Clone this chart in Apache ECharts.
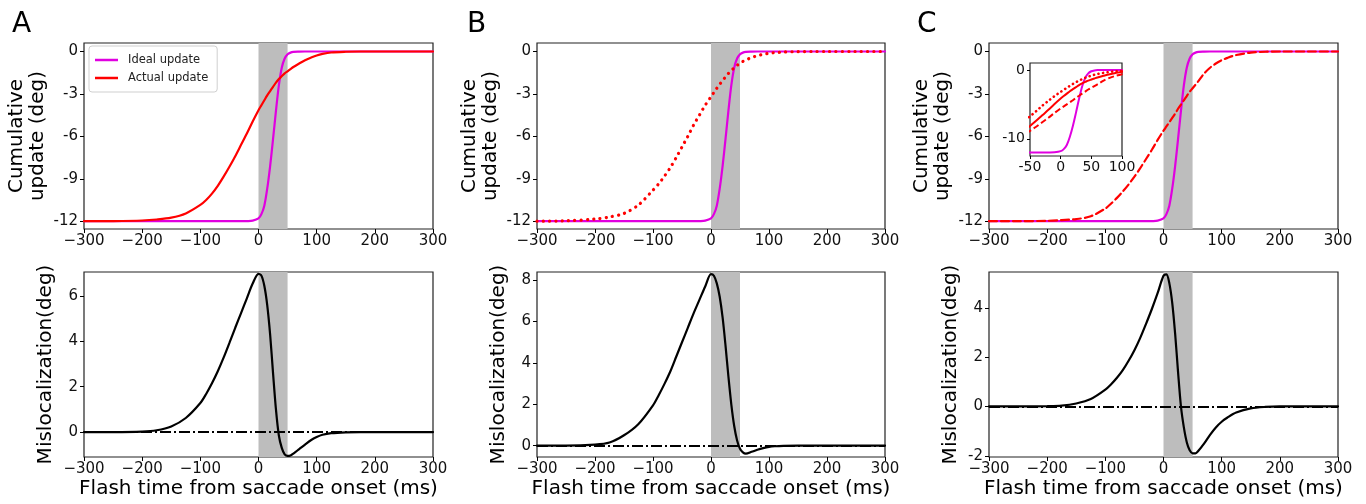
<!DOCTYPE html>
<html>
<head>
<meta charset="utf-8">
<script src="https://cdn.jsdelivr.net/npm/echarts@6/dist/echarts.min.js"></script>
<style>
  html, body { margin: 0; padding: 0; background: #fff; }
  #main { width: 1366px; height: 504px; }
</style>
</head>
<body>
<div id="main"></div>
<script>
// time of flash relative to saccade onset (ms)
const t = [-300, -250, -200, -175, -150, -125, -100, -90, -80, -70, -60, -50, -40, -30, -20, -10,
  0, 5, 10, 15, 20, 25, 30, 35, 40, 45, 50, 55, 60,
  70, 80, 90, 100, 110, 125, 150, 175, 200, 250, 300];

// cumulative update (deg)
const ideal = [-12, -12, -12, -12, -12, -12, -12, -12, -12, -12, -12, -12, -12, -12, -11.99, -11.96,
  -11.8, -11.5, -10.9, -9.7, -8.1, -6.2, -4.2, -2.4, -1.15, -0.5, -0.2, -0.08, -0.03,
  -0.01, 0, 0, 0, 0, 0, 0, 0, 0, 0, 0];
const actualA = [-12, -11.99, -11.95, -11.88, -11.75, -11.45, -10.85, -10.5, -10.05, -9.5, -8.85, -8.15, -7.4, -6.6, -5.8, -4.95,
  -4.15, -3.8, -3.45, -3.1, -2.8, -2.5, -2.2, -1.95, -1.75, -1.55, -1.4, -1.25, -1.1,
  -0.85, -0.62, -0.44, -0.28, -0.17, -0.07, -0.02, 0, 0, 0, 0];
const actualB = [-12, -11.97, -11.85, -11.7, -11.45, -10.85, -9.8, -9.35, -8.8, -8.2, -7.5, -6.75, -6.0, -5.2, -4.5, -3.8,
  -3.2, -2.9, -2.6, -2.32, -2.05, -1.8, -1.55, -1.35, -1.15, -0.98, -0.83, -0.7, -0.6,
  -0.43, -0.3, -0.2, -0.13, -0.08, -0.04, -0.01, 0, 0, 0, 0];
const actualC = [-12, -12, -11.97, -11.92, -11.85, -11.65, -11.1, -10.75, -10.35, -9.9, -9.4, -8.85, -8.25, -7.6, -6.95, -6.25,
  -5.6, -5.3, -5.0, -4.7, -4.4, -4.05, -3.75, -3.45, -3.15, -2.85, -2.6, -2.35, -2.1,
  -1.55, -1.15, -0.85, -0.62, -0.45, -0.25, -0.08, -0.02, 0, 0, 0];

// mislocalization (deg)
const misA = [0, 0, 0.02, 0.08, 0.25, 0.62, 1.28, 1.68, 2.15, 2.68, 3.28, 3.93, 4.6, 5.25, 5.9, 6.55,
  6.98, 6.9, 6.45, 5.6, 4.3, 2.6, 1.0, -0.15, -0.7, -0.98, -1.05, -1.03, -0.95,
  -0.75, -0.55, -0.36, -0.22, -0.12, -0.05, -0.01, 0, 0, 0, 0];
const misB = [0, 0, 0.05, 0.15, 0.5, 1.05, 1.95, 2.45, 3.0, 3.6, 4.3, 5.0, 5.7, 6.4, 7.05, 7.7,
  8.3, 8.22, 7.85, 7.2, 6.2, 4.85, 3.35, 2.0, 0.95, 0.25, -0.15, -0.33, -0.39,
  -0.3, -0.2, -0.12, -0.06, -0.03, -0.01, 0, 0, 0, 0, 0];
const misC = [0, 0, 0.01, 0.03, 0.12, 0.3, 0.68, 0.9, 1.16, 1.47, 1.85, 2.28, 2.78, 3.35, 3.95, 4.6,
  5.3, 5.35, 5.0, 4.2, 2.95, 1.4, 0.0, -0.85, -1.45, -1.78, -1.9, -1.9, -1.8,
  -1.5, -1.15, -0.85, -0.62, -0.45, -0.25, -0.08, -0.02, 0, 0, 0];

// saccade period (gray band)
const band = [0, 50];

const topTicks = [0, -3, -6, -9, -12];
const misTicksA = [0, 2, 4, 6];
const misTicksB = [0, 2, 4, 6, 8];
const misTicksC = [-2, 0, 2, 4];
const insetTicksY = [0, -10];

const FONT = 'DejaVu Sans';
const MAGENTA = '#e000e0';
const RED = '#ff0000';

function pairs(xs, ys) { return xs.map((x, i) => [x, ys[i]]); }

const minus = v => (v < 0 ? '\u2212' + (-v) : '' + v);

let chart = echarts.init(document.getElementById('main'));

const gridBox = { show: true, borderColor: '#222', borderWidth: 1.2, backgroundColor: '#fff' };
const grids = [
  { left: 84, top: 43, width: 349, height: 186 },
  { left: 537, top: 43, width: 348, height: 186 },
  { left: 989, top: 43, width: 349, height: 186 },
  { left: 84, top: 272, width: 349, height: 185 },
  { left: 537, top: 272, width: 348, height: 185 },
  { left: 989, top: 272, width: 349, height: 185 },
  { left: 1030, top: 63, width: 92, height: 93 } // inset in C
].map(g => Object.assign({}, gridBox, g));

function xAx(gi, extra) {
  return Object.assign({
    type: 'value', gridIndex: gi, min: -300, max: 300, interval: 100,
    axisLine: { show: false, onZero: false },
    axisTick: { show: true, length: 4, lineStyle: { color: '#000', width: 1 } },
    splitLine: { show: false },
    axisLabel: { fontSize: 15, color: '#111', margin: 5, fontFamily: FONT, formatter: minus }
  }, extra || {});
}
function yAx(gi, min, max, ticks, extra) {
  return Object.assign({
    type: 'value', gridIndex: gi, min: min, max: max,
    axisLine: { show: false, onZero: false },
    axisTick: { show: true, length: 4, customValues: ticks, lineStyle: { color: '#000', width: 1 } },
    splitLine: { show: false },
    axisLabel: { fontSize: 15, color: '#111', margin: 6, fontFamily: FONT, customValues: ticks }
  }, extra || {});
}

const xName = {
  name: 'Flash time from saccade onset (ms)', nameLocation: 'middle', nameGap: 22,
  nameTextStyle: { fontSize: 20, color: '#000', fontFamily: FONT }
};
const cumName = {
  name: 'Cumulative\nupdate (deg)', nameLocation: 'middle', nameRotate: 90, nameGap: 36,
  nameTextStyle: { fontSize: 20, lineHeight: 21, color: '#000', fontFamily: FONT }
};
const misName = {
  name: 'Mislocalization(deg)', nameLocation: 'middle', nameRotate: 90, nameGap: 28,
  nameTextStyle: { fontSize: 20, color: '#000', fontFamily: FONT }
};

const bandArea = {
  silent: true,
  itemStyle: { color: '#bdbdbd' },
  data: [[{ xAxis: band[0] }, { xAxis: band[1] }]]
};
const zeroLine = {
  silent: true, symbol: ['none', 'none'], label: { show: false },
  lineStyle: { color: '#000', width: 2, type: [11, 3, 2, 3] },
  data: [{ yAxis: 0 }]
};

function line(name, gi, ys, color, type, extra) {
  return Object.assign({
    name: name, type: 'line', xAxisIndex: gi, yAxisIndex: gi,
    data: pairs(t, ys), showSymbol: false, symbol: 'none', smooth: 0.3,
    lineStyle: { color: color, width: 2.2, type: type || 'solid', cap: 'round' },
    itemStyle: { color: color }, z: 3
  }, extra || {});
}

const dotted = [0.1, 6.2];
const dashed = [8, 4];

const letter = { fontSize: 28, fontWeight: 'normal', color: '#000', fontFamily: FONT };

option = {
  animation: false,
  title: [
    { text: 'A', left: 12, top: 11, padding: 0, textStyle: letter },
    { text: 'B', left: 467, top: 11, padding: 0, textStyle: letter },
    { text: 'C', left: 917, top: 11, padding: 0, textStyle: letter }
  ],
  legend: {
    data: ['Ideal update', 'Actual update'],
    orient: 'vertical', left: 89, top: 46,
    padding: [8, 9, 8, 6], itemGap: 6,
    itemWidth: 23, itemHeight: 2.5, icon: 'rect',
    backgroundColor: '#fff', borderColor: '#cfcfcf', borderWidth: 1, borderRadius: 3,
    textStyle: { fontSize: 11.5, color: '#222', fontFamily: FONT, padding: [0, 0, 0, 5] },
    selectedMode: false
  },
  grid: grids,
  xAxis: [
    xAx(0), xAx(1), xAx(2),
    xAx(3, xName), xAx(4, xName), xAx(5, xName),
    xAx(6, { min: -50, max: 100, interval: 50, axisTick: { show: true, length: 3, lineStyle: { color: '#000' } },
      axisLabel: { fontSize: 14, color: '#111', margin: 4, fontFamily: FONT } })
  ],
  yAxis: [
    yAx(0, -12.55, 0.6, topTicks, cumName),
    yAx(1, -12.55, 0.6, topTicks, cumName),
    yAx(2, -12.55, 0.6, topTicks, cumName),
    yAx(3, -1.1, 7.06, misTicksA, misName),
    yAx(4, -0.55, 8.4, misTicksB, misName),
    yAx(5, -2.05, 5.45, misTicksC, misName),
    yAx(6, -12.5, 1.0, insetTicksY, { axisLabel: { fontSize: 14, color: '#111', margin: 5, fontFamily: FONT, customValues: insetTicksY },
      axisTick: { show: true, length: 3, customValues: insetTicksY, lineStyle: { color: '#000' } } })
  ],
  series: [
    // A top
    line('Ideal update', 0, ideal, MAGENTA, 'solid', { markArea: bandArea }),
    line('Actual update', 0, actualA, RED),
    // B top
    line('ideal B', 1, ideal, MAGENTA, 'solid', { markArea: bandArea }),
    line('actual B', 1, actualB, RED, dotted, { lineStyle: { color: RED, width: 3.2, type: dotted, cap: 'round' } }),
    // C top
    line('ideal C', 2, ideal, MAGENTA, 'solid', { markArea: bandArea }),
    line('actual C', 2, actualC, RED, dashed),
    // bottom row
    line('mis A', 3, misA, '#000', 'solid', { markArea: bandArea, markLine: zeroLine }),
    line('mis B', 4, misB, '#000', 'solid', { markArea: bandArea, markLine: zeroLine }),
    line('mis C', 5, misC, '#000', 'solid', { markArea: bandArea, markLine: zeroLine }),
    // inset
    line('inset ideal', 6, ideal, MAGENTA, 'solid', { lineStyle: { color: MAGENTA, width: 2 } }),
    line('inset A', 6, actualA, RED, 'solid', { lineStyle: { color: RED, width: 2 } }),
    line('inset B', 6, actualB, RED, dotted, { lineStyle: { color: RED, width: 2.6, type: [0.1, 4.5], cap: 'round' } }),
    line('inset C', 6, actualC, RED, dashed, { lineStyle: { color: RED, width: 2, type: [6, 3] } })
  ]
};
chart.setOption(option);
</script>
</body>
</html>
